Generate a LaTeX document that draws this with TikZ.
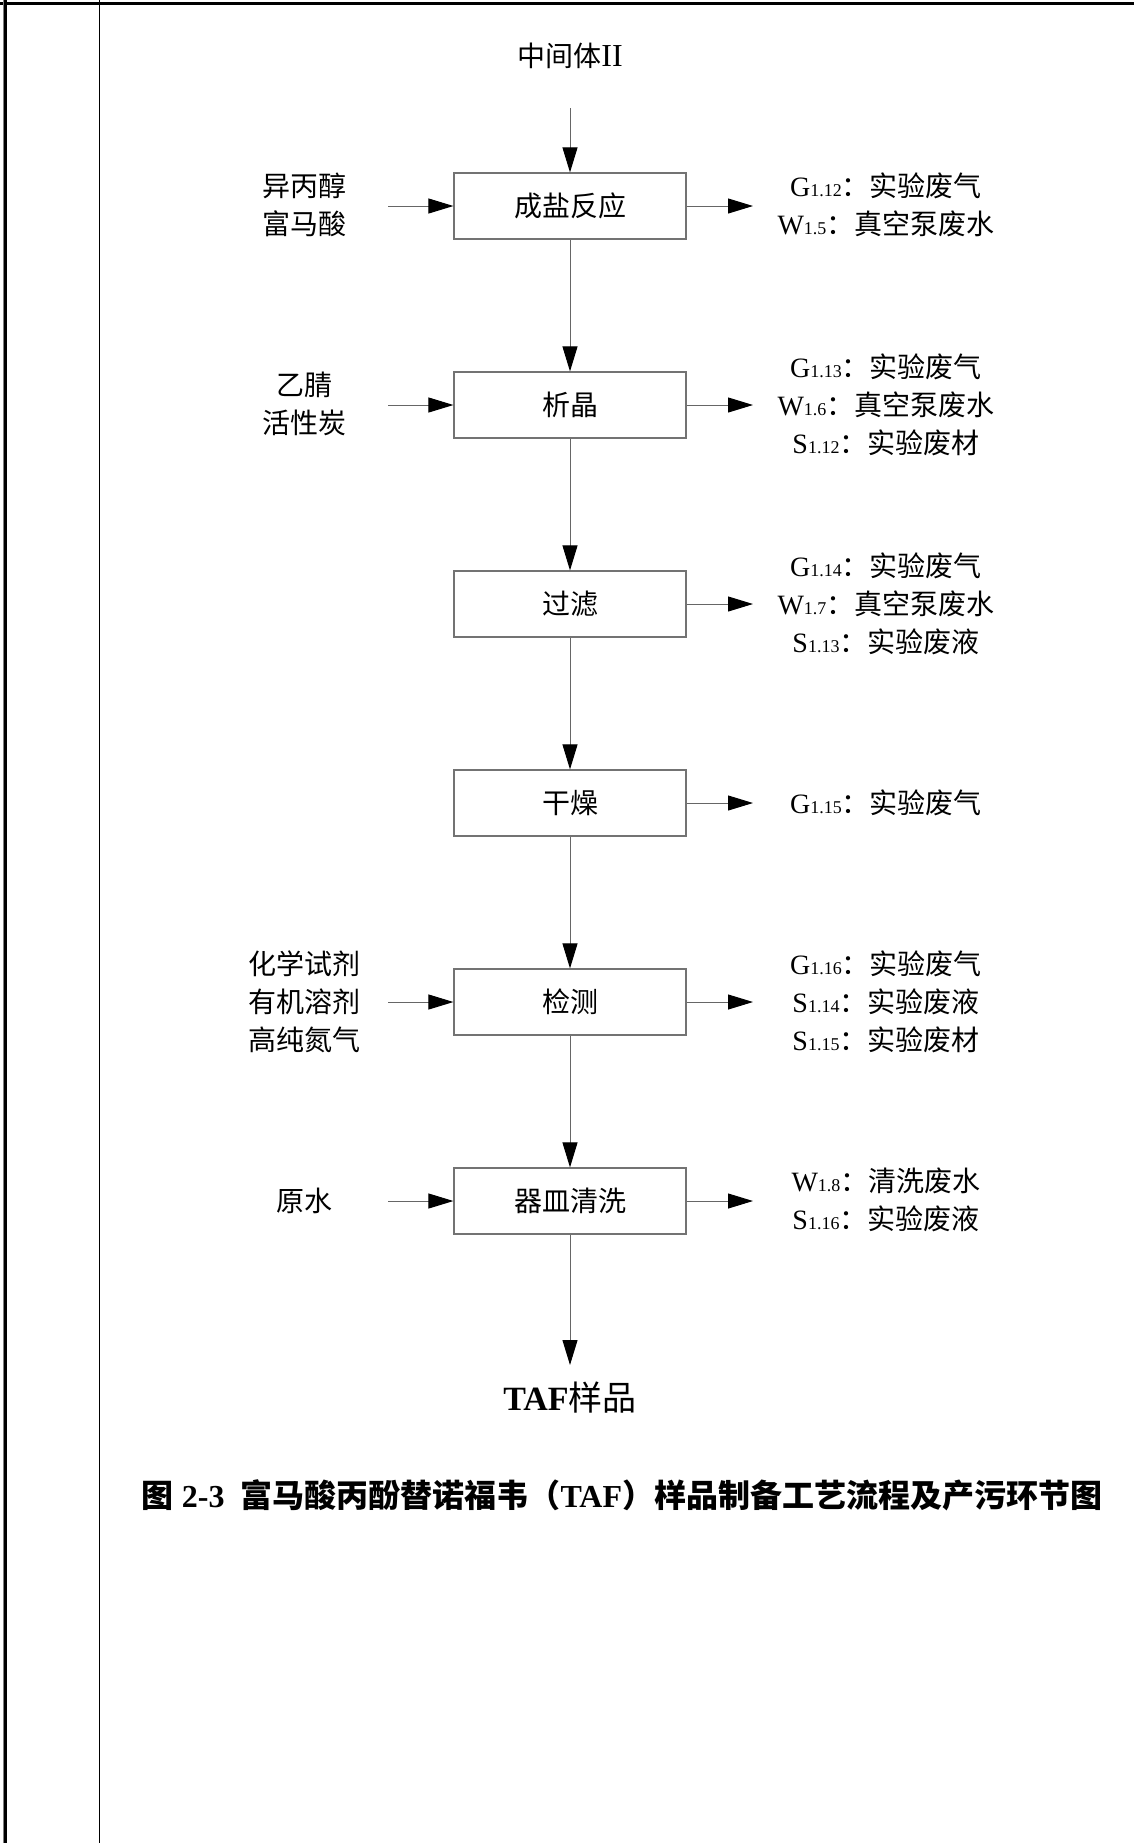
\documentclass[tikz,border=0pt]{standalone}
\usepackage{fontspec}
\setmainfont{Liberation Serif}
\newfontfamily\cjk{Noto Sans CJK SC}
\usetikzlibrary{arrows.meta}
\newcommand{\sbs}[1]{{\fontsize{9pt}{9pt}\selectfont #1}}
\tikzset{
  procbox/.style={draw=black!55, line width=0.6pt, minimum width=116pt, minimum height=33pt, inner sep=0pt, font=\fontsize{14pt}{19pt}\selectfont\cjk},
  txt/.style={align=center, inner sep=0pt, font=\fontsize{14pt}{19pt}\selectfont},
  arr/.style={draw=black!60, line width=0.5pt, -{Triangle[length=12.5pt,width=7.5pt,color=black]}}
}
\begin{document}
\begin{tikzpicture}[x=0.5pt,y=-0.5pt]
\useasboundingbox (0,0) rectangle (1134,1843);
% frame
\fill[black] (0,1.5) rectangle (1134,4.5);
\fill[black] (4,0) rectangle (7,1843);
\fill[black!50] (2.5,0) rectangle (4,1843);
\draw[line width=0.5pt] (99.5,0) -- (99.5,1843);

% process boxes
\node[procbox] (b1) at (570,206) {成盐反应};
\node[procbox] (b2) at (570,405) {析晶};
\node[procbox] (b3) at (570,604) {过滤};
\node[procbox] (b4) at (570,803) {干燥};
\node[procbox] (b5) at (570,1002) {检测};
\node[procbox] (b6) at (570,1201) {器皿清洗};

% top input
\node[txt] (top) at (570,56) {{\cjk 中间体}{\fontsize{16pt}{16pt}\selectfont II}};
\coordinate (topstart) at (570,108);
\draw[arr] (topstart) -- (b1.north);

% vertical flow
\draw[arr] (b1) -- (b2);
\draw[arr] (b2) -- (b3);
\draw[arr] (b3) -- (b4);
\draw[arr] (b4) -- (b5);
\draw[arr] (b5) -- (b6);
\coordinate (endpt) at (570,1365);
\draw[arr] (b6.south) -- (endpt);
\node[inner sep=0pt, font=\fontsize{17pt}{17pt}\selectfont] (taf) at (570,1398) {{\bfseries TAF}{\cjk 样品}};

% left inputs
\node[txt, font=\fontsize{14pt}{19pt}\selectfont\cjk] (in1) at (304,205) {异丙醇\\富马酸};
\coordinate (in1a) at (388,206);
\draw[arr] (in1a) -- (b1.west);
\node[txt, font=\fontsize{14pt}{19pt}\selectfont\cjk] (in2) at (304,404) {乙腈\\活性炭};
\coordinate (in2a) at (388,405);
\draw[arr] (in2a) -- (b2.west);
\node[txt, font=\fontsize{14pt}{19pt}\selectfont\cjk] (in5) at (304,1002) {化学试剂\\有机溶剂\\高纯氮气};
\coordinate (in5a) at (388,1002);
\draw[arr] (in5a) -- (b5.west);
\node[txt, font=\fontsize{14pt}{19pt}\selectfont\cjk] (in6) at (304,1201) {原水};
\coordinate (in6a) at (388,1201);
\draw[arr] (in6a) -- (b6.west);

% right outputs
\coordinate (o1a) at (753,206);
\draw[arr] (b1.east) -- (o1a);
\node[txt] (o1) at (886,205) {G\sbs{1.12}{\cjk ：实验废气}\\W\sbs{1.5}{\cjk ：真空泵废水}};
\coordinate (o2a) at (753,405);
\draw[arr] (b2.east) -- (o2a);
\node[txt] (o2) at (886,405) {G\sbs{1.13}{\cjk ：实验废气}\\W\sbs{1.6}{\cjk ：真空泵废水}\\S\sbs{1.12}{\cjk ：实验废材}};
\coordinate (o3a) at (753,604);
\draw[arr] (b3.east) -- (o3a);
\node[txt] (o3) at (886,604) {G\sbs{1.14}{\cjk ：实验废气}\\W\sbs{1.7}{\cjk ：真空泵废水}\\S\sbs{1.13}{\cjk ：实验废液}};
\coordinate (o4a) at (753,803);
\draw[arr] (b4.east) -- (o4a);
\node[txt] (o4) at (886,803) {G\sbs{1.15}{\cjk ：实验废气}};
\coordinate (o5a) at (753,1002);
\draw[arr] (b5.east) -- (o5a);
\node[txt] (o5) at (886,1002) {G\sbs{1.16}{\cjk ：实验废气}\\S\sbs{1.14}{\cjk ：实验废液}\\S\sbs{1.15}{\cjk ：实验废材}};
\coordinate (o6a) at (753,1201);
\draw[arr] (b6.east) -- (o6a);
\node[txt] (o6) at (886,1200) {W\sbs{1.8}{\cjk ：清洗废水}\\S\sbs{1.16}{\cjk ：实验废液}};

% caption
\node[inner sep=0pt, font=\fontsize{16pt}{16pt}\selectfont\bfseries] (cap) at (622,1495) {{\cjk 图} 2-3\ \ {\cjk 富马酸丙酚替诺福韦（}TAF{\cjk ）样品制备工艺流程及产污环节图}};
\end{tikzpicture}
\end{document}
